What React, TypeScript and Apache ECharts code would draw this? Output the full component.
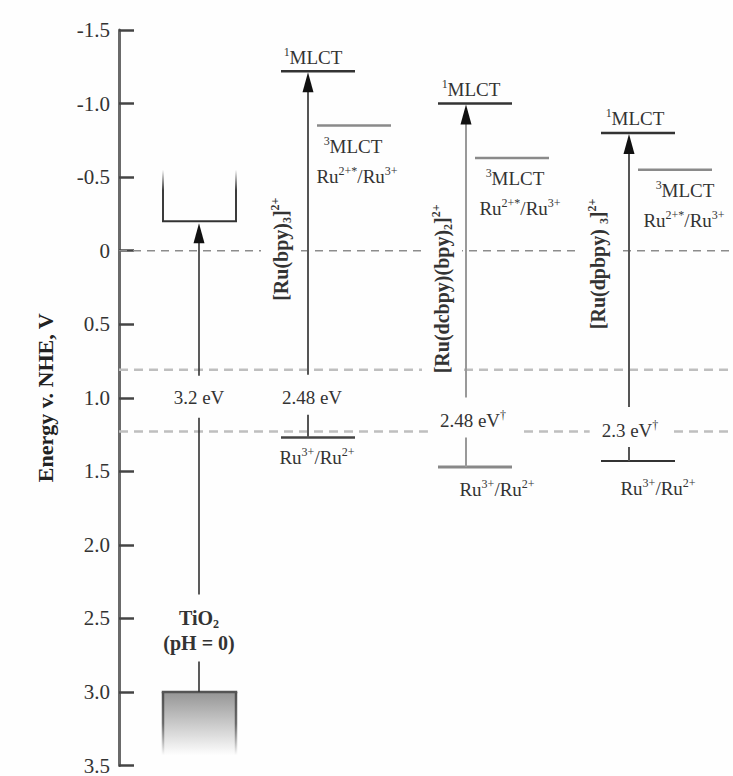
import React, { useEffect, useRef } from "react";
import * as echarts from "echarts";

// ---------- data (energies in V vs NHE) ----------
const axisMin = -1.5;
const axisMax = 3.5;
const axisStep = 0.5;
const axisTitle = "Energy v. NHE, V";

const complexNames = ["[Ru(bpy)₃]²⁺", "[Ru(dcbpy)(bpy)₂]²⁺", "[Ru(dpbpy) ₃]²⁺"];
const singletMLCT = [-1.22, -1.0, -0.8];
const tripletMLCT = [-0.85, -0.63, -0.55];
const groundState = [1.27, 1.47, 1.43];
const gapLabels = ["2.48 eV", "2.48 eV†", "2.3 eV†"];
const gapLabelEnergy = [1.0, 1.155, 1.22];
const singletLabel = "¹MLCT";
const tripletLabel = "³MLCT";
const excitedCouple = "Ru²⁺*/Ru³⁺";
const groundCouple = "Ru³⁺/Ru²⁺";

const tio2CB = -0.2;
const tio2VB = 3.0;
const tio2Gap = "3.2 eV";
const tio2Name = ["TiO₂", "(pH = 0)"];
const tio2NameEnergy = [2.5, 2.67];

const referenceLines = [0, 0.81, 1.23];

// ---------- layout (x in axis units = px right of the y axis) ----------
const X_MAX = 614;
const tioBox = { left: 44, right: 117, mid: 80, cbTop: -0.55, vbBottom: 3.43 };
const colLeft = [162, 319, 482];
const levelWidth = 74;
const arrowX = [189, 347, 510];
const tripLeft = [198, 356, 519];
const singletLabelX = [194, 352, 516];
const tripletLabelX = [234, 396, 566];
const excitedLabelX = [238, 401, 565];
const gapLabelX = [193, 354, 511];
const groundLabelX = [198, 378, 539];
const groundLabelDy = [20, 23, 27];
const nameX = [162, 323, 479];
const nameEnergy = [-0.01, 0.26, 0.09];
const arrowColor = ["#555", "#999", "#555"];
const groundColor = ["#444", "#888", "#333"];
const groundWidth = [2.5, 3, 2];

const SERIF = "Liberation Serif, Times New Roman, serif";
const TXT = "#333";
const BG = "#fefefe";

const SUP: Record<string, string> = { "¹": "1", "²": "2", "³": "3", "⁺": "+", "†": "†", "*": "*" };
const SUB: Record<string, string> = { "₂": "2", "₃": "3" };

function toRich(s: string): string {
  let out = "";
  let mode = "";
  let buf = "";
  const flush = () => {
    if (buf) out += `{${mode}|${buf}}`;
    buf = "";
  };
  for (const ch of s) {
    const m = SUP[ch] !== undefined ? "sup" : SUB[ch] !== undefined ? "sub" : "n";
    const c = m === "sup" ? SUP[ch] : m === "sub" ? SUB[ch] : ch;
    if (m !== mode) {
      flush();
      mode = m;
    }
    buf += c;
  }
  flush();
  return out;
}

function rich(size: number, weight: string) {
  const small = Math.round(size * 0.62);
  return {
    n: { fontFamily: SERIF, fontSize: size, fontWeight: weight, fill: TXT, lineHeight: size + 4, verticalAlign: "middle" },
    sup: { fontFamily: SERIF, fontSize: small, fontWeight: weight, fill: TXT, lineHeight: small + 1, verticalAlign: "top" },
    sub: { fontFamily: SERIF, fontSize: small, fontWeight: weight, fill: TXT, lineHeight: small + 1, verticalAlign: "bottom" },
  };
}

function label(x: number, y: number, s: string, size: number, weight = "normal", extra: any = {}, rotation = 0) {
  return {
    type: "text",
    x,
    y,
    rotation,
    style: {
      text: toRich(s),
      fontFamily: SERIF,
      fontSize: size,
      fontWeight: weight,
      fill: TXT,
      align: "center",
      verticalAlign: "middle",
      lineHeight: size + 4,
      rich: rich(size, weight),
      ...extra,
    },
  };
}

export default function App() {
  const ref = useRef<HTMLDivElement>(null);
  useEffect(() => {
    const chart = echarts.init(ref.current!, null, { renderer: "svg" });

    const renderItem = (_params: any, api: any) => {
      const X = (x: number) => api.coord([x, 0])[0];
      const Y = (v: number) => api.coord([0, v])[1];
      const bg: any[] = [];
      const fg: any[] = [];
      const txt: any[] = [];

      const seg = (arr: any[], x1: number, y1: number, x2: number, y2: number, stroke: string, lineWidth: number, lineDash?: number[]) =>
        arr.push({ type: "line", shape: { x1, y1, x2, y2 }, style: { stroke, lineWidth, lineDash, lineCap: "butt" } });
      const head = (xp: number, tip: number) =>
        fg.push({ type: "polygon", shape: { points: [[xp, tip], [xp - 5.5, tip + 20], [xp + 5.5, tip + 20]] }, style: { fill: "#111" } });

      // reference dashed lines
      referenceLines.forEach((v, i) => {
        if (i === 0) seg(bg, X(0), Y(v), X(X_MAX), Y(v), "#8c8c8c", 1.5, [8, 6]);
        else seg(bg, X(0), Y(v), X(X_MAX), Y(v), "#bfbfbf", 2.5, [9, 6]);
      });

      // TiO2 conduction band
      const bl = X(tioBox.left);
      const br = X(tioBox.right);
      const cbY = Y(tio2CB);
      const cbTopY = Y(tioBox.cbTop);
      const fadeDown = new echarts.graphic.LinearGradient(0, 0, 0, 1, [
        { offset: 0, color: "rgba(60,60,60,0)" },
        { offset: 0.4, color: "rgba(60,60,60,1)" },
        { offset: 1, color: "rgba(60,60,60,1)" },
      ]);
      [bl, br].forEach((xx) =>
        fg.push({ type: "rect", shape: { x: xx - 1, y: cbTopY, width: 2, height: cbY - cbTopY }, style: { fill: fadeDown } })
      );
      seg(fg, bl - 1, cbY, br + 1, cbY, "#333", 2);

      // TiO2 valence band
      const vbY = Y(tio2VB);
      const vbB = Y(tioBox.vbBottom);
      fg.push({
        type: "rect",
        shape: { x: bl, y: vbY, width: br - bl, height: vbB - vbY },
        style: {
          fill: new echarts.graphic.LinearGradient(0, 0, 0, 1, [
            { offset: 0, color: "#959595" },
            { offset: 1, color: BG },
          ]),
        },
      });
      const fadeUp = new echarts.graphic.LinearGradient(0, 0, 0, 1, [
        { offset: 0, color: "rgba(80,80,80,1)" },
        { offset: 0.5, color: "rgba(80,80,80,0.8)" },
        { offset: 1, color: "rgba(80,80,80,0)" },
      ]);
      [bl, br].forEach((xx) =>
        fg.push({ type: "rect", shape: { x: xx - 1.25, y: vbY, width: 2.5, height: vbB - vbY }, style: { fill: fadeUp } })
      );
      seg(fg, bl - 1.25, vbY, br + 1.25, vbY, "#555", 2.5);

      // TiO2 band gap arrow
      const tm = X(tioBox.mid);
      const gapY = Y(1.0);
      const nameTop = Y(tio2NameEnergy[0]);
      const nameBot = Y(tio2NameEnergy[1]);
      seg(fg, tm, vbY, tm, nameBot + 18, "#333", 1.6);
      seg(fg, tm, nameTop - 24, tm, gapY + 20, "#333", 1.6);
      seg(fg, tm, gapY - 22, tm, cbY + 20, "#333", 1.6);
      head(tm, cbY + 2);
      txt.push(label(tm, gapY, tio2Gap, 19));
      txt.push(label(tm, nameTop, tio2Name[0], 20, "bold"));
      txt.push(label(tm, nameBot, tio2Name[1], 20, "bold"));

      // dyes
      complexNames.forEach((name, i) => {
        const l = X(colLeft[i]);
        const r = X(colLeft[i] + levelWidth);
        const sY = Y(singletMLCT[i]);
        const tY = Y(tripletMLCT[i]);
        const gY = Y(groundState[i]);
        const lY = Y(gapLabelEnergy[i]);
        const ax = X(arrowX[i]);

        seg(fg, l, sY, r, sY, "#333", 2.5);
        seg(fg, X(tripLeft[i]), tY, X(tripLeft[i] + levelWidth), tY, "#8a8a8a", 2.5);
        seg(fg, l, gY, r, gY, groundColor[i], groundWidth[i]);

        seg(fg, ax, lY - 23, ax, sY + 19, arrowColor[i], 2);
        head(ax, sY + 1);
        seg(fg, ax, lY + 17, ax, gY, arrowColor[i], 2);

        txt.push(label(X(singletLabelX[i]), sY - 14, singletLabel, 19));
        txt.push(label(X(tripletLabelX[i]), tY + 21, tripletLabel, 19));
        txt.push(label(X(excitedLabelX[i]), tY + 51, excitedCouple, 19));
        txt.push(label(X(groundLabelX[i]), gY + groundLabelDy[i], groundCouple, 19));
        txt.push(label(X(gapLabelX[i]), lY, gapLabels[i], 19, "normal", { backgroundColor: BG, padding: [2, 12] }));
        txt.push(
          label(X(nameX[i]), Y(nameEnergy[i]), name, 20, "bold", { backgroundColor: BG, padding: [8, 4] }, Math.PI / 2)
        );
      });

      return { type: "group", children: [...bg, ...txt, ...fg] };
    };

    const option: any = {
      animation: false,
      backgroundColor: BG,
      grid: { left: 119, right: 0, top: 30, bottom: 6 },
      xAxis: { type: "value", min: 0, max: X_MAX, show: false },
      yAxis: {
        type: "value",
        inverse: true,
        min: axisMin,
        max: axisMax,
        interval: axisStep,
        name: axisTitle,
        nameLocation: "middle",
        nameGap: 63,
        nameTextStyle: { fontFamily: SERIF, fontSize: 22, fontWeight: "bold", color: "#222" },
        axisLine: { show: true, lineStyle: { color: "#6a6a6a", width: 3 } },
        axisTick: { show: true, inside: true, length: 15, lineStyle: { color: "#444", width: 2.5 } },
        axisLabel: {
          margin: 9,
          fontFamily: SERIF,
          fontSize: 21,
          color: "#333",
          formatter: (v: number) => (Math.abs(v) < 1e-9 ? "0" : v.toFixed(1)),
        },
        splitLine: { show: false },
      },
      series: [
        {
          type: "custom",
          coordinateSystem: "cartesian2d",
          silent: true,
          clip: false,
          data: [[0, 0]],
          renderItem,
        },
      ],
    };
    chart.setOption(option);
    return () => chart.dispose();
  }, []);

  return <div ref={ref} style={{ position: "fixed", left: 0, top: 0, width: 733, height: 776 }} />;
}
